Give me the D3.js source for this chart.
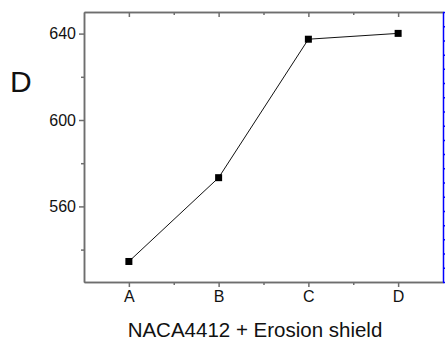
<!DOCTYPE html>
<head>
    <meta charset="utf-8">
    <script src="https://d3js.org/d3.v7.min.js"></script>
    <style>
        body { margin: 0; background: #fff; font-family: 'Liberation Sans', Arial, sans-serif; }
        .axis path, .axis line { stroke: #6e6e6e; stroke-width: 1.5px; }
        .axis text { font-size: 16px; fill: #111; font-family: 'Liberation Sans', Arial, sans-serif; }
    </style>
</head>
<body>
<div id="my_dataviz"></div>
<script>
    // data
    var categories = ["A", "B", "C", "D"];
    var values = [534.5, 573.3, 637.4, 640.1];
    var yTicks = [560, 600, 640];
    var yMinorTicks = [540, 580, 620];

    var margin = { top: 12, right: 2, bottom: 61, left: 84 },
        width = 443 - 84,
        height = 282 - 12;

    var svg = d3.select("#my_dataviz")
        .append("svg")
        .attr("width", 445)
        .attr("height", 343)
        .append("g")
        .attr("transform", "translate(" + margin.left + "," + margin.top + ")");

    // x scale: categories at 1..4, half step padding on each side
    var x = d3.scaleLinear()
        .domain([0.5, categories.length + 0.5])
        .range([0, width]);

    var y = d3.scaleLinear()
        .domain([525, 650])
        .range([height, 0]);

    var catIdx = categories.map(function (d, i) { return i + 1; });
    var minorX = catIdx.slice(0, -1).map(function (d) { return d + 0.5; });

    // bottom axis
    svg.append("g")
        .attr("class", "axis")
        .attr("transform", "translate(0," + height + ")")
        .call(d3.axisBottom(x).tickValues(catIdx).tickSize(5).tickSizeOuter(0).tickPadding(4)
            .tickFormat(function (d) { return categories[d - 1]; }));
    svg.append("g")
        .attr("class", "axis")
        .attr("transform", "translate(0," + height + ")")
        .call(d3.axisBottom(x).tickValues(minorX).tickSize(3).tickSizeOuter(0).tickFormat(""));

    // top axis (ticks inward)
    svg.append("g")
        .attr("class", "axis")
        .call(d3.axisTop(x).tickValues(catIdx).tickSize(-5).tickSizeOuter(0).tickFormat(""));
    svg.append("g")
        .attr("class", "axis")
        .call(d3.axisTop(x).tickValues(minorX).tickSize(-3).tickSizeOuter(0).tickFormat(""));

    // left axis
    svg.append("g")
        .attr("class", "axis")
        .call(d3.axisLeft(y).tickValues(yTicks).tickSize(5).tickSizeOuter(0).tickPadding(3));
    svg.append("g")
        .attr("class", "axis")
        .call(d3.axisLeft(y).tickValues(yMinorTicks).tickSize(3).tickSizeOuter(0).tickFormat(""));

    // right axis, blue, many small ticks
    var yRight = d3.scaleLinear().domain([0, 19]).range([height, 0]);
    var right = svg.append("g")
        .attr("transform", "translate(" + width + ",0)")
        .call(d3.axisRight(yRight).ticks(19).tickSize(3).tickSizeOuter(0).tickFormat(""));
    right.selectAll("path, line").attr("stroke", "#0000ff").attr("stroke-width", 1.5);

    // line
    var pts = categories.map(function (c, i) { return [i + 1, values[i]]; });
    svg.append("path")
        .datum(pts)
        .attr("fill", "none")
        .attr("stroke", "#111")
        .attr("stroke-width", 1)
        .attr("d", d3.line()
            .x(function (d) { return x(d[0]); })
            .y(function (d) { return y(d[1]); }));

    // square markers
    svg.append("g")
        .selectAll("rect")
        .data(pts)
        .enter()
        .append("rect")
        .attr("x", function (d) { return x(d[0]) - 3.5; })
        .attr("y", function (d) { return y(d[1]) - 3.5; })
        .attr("width", 7)
        .attr("height", 7)
        .attr("fill", "#000");

    // y label
    svg.append("text")
        .attr("x", -74)
        .attr("y", 92 - margin.top)
        .style("font-size", "30px")
        .style("fill", "#111")
        .text("D");

    // x label
    svg.append("text")
        .attr("x", 255 - margin.left)
        .attr("y", 337 - margin.top)
        .style("text-anchor", "middle")
        .style("font-size", "20.5px")
        .style("fill", "#111")
        .text("NACA4412 + Erosion shield");
</script>
</body>
